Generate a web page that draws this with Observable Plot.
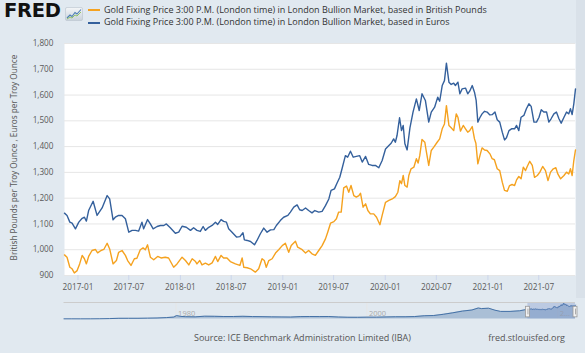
<!DOCTYPE html>
<html>
<head>
<meta charset="utf-8">
<script src="https://cdn.jsdelivr.net/npm/d3@7"></script>
<script src="https://cdn.jsdelivr.net/npm/@observablehq/plot@0.6"></script>
<style>
  html, body { margin: 0; padding: 0; background: #e1e9f0; }
  #wrap { position: relative; width: 585px; height: 353px; background: #e1e9f0; overflow: hidden; font-family: "Open Sans", sans-serif; }
  .abs { position: absolute; }
  #logo { left: 4px; top: 0px; font-family: "DejaVu Sans", sans-serif; font-weight: bold; font-size: 19.5px; color: #111; letter-spacing: -0.3px; line-height: 22px; }
  #icon { left: 65px; top: 4px; }
  #legend { left: 88px; top: 4px; font-size: 9px; color: #333; line-height: 12.4px; }
  .row { display: flex; align-items: center; white-space: nowrap; }
  .sw { width: 12px; height: 2px; margin-right: 4px; }
  #strip { left: 576px; top: 0px; width: 9px; height: 298px; background: #d9e1e9; }
  #source { left: 194px; top: 331px; font-size: 9px; color: #555; white-space: nowrap; }
  #fred { right: 20px; top: 331px; font-size: 9px; color: #555; white-space: nowrap; }
</style>
</head>
<body>
<div id="wrap">
  <div id="strip" class="abs"></div>
  <div id="chart" class="abs" style="left:0;top:0"></div>
  <div id="nav" class="abs" style="left:0;top:298px"></div>
  <div id="logo" class="abs">FRED</div>
  <div id="icon" class="abs">
    <svg width="18" height="14" viewBox="0 0 18 14">
      <defs><linearGradient id="g" x1="0" y1="0" x2="0" y2="1"><stop offset="0" stop-color="#f4f6f8"/><stop offset="1" stop-color="#c9d2db"/></linearGradient></defs>
      <rect x="0.5" y="0.5" width="17" height="13" rx="1.5" fill="url(#g)" stroke="#b8c2cc" stroke-width="0.6"/>
      <polyline points="2,11 5,8 7,9.5 10,5.5 12,7 16,2.5" fill="none" stroke="#4e7fb5" stroke-width="1.1"/>
      <polyline points="2,12 5,10 7,11 10,8 12,9 16,5" fill="none" stroke="#8bbf5a" stroke-width="0.9"/>
    </svg>
  </div>
  <div id="legend" class="abs"></div>
  <div id="source" class="abs">Source: ICE Benchmark Administration Limited (IBA)</div>
  <div id="fred" class="abs">fred.stlouisfed.org</div>
</div>
<script>
// ---------- Series names / titles ----------
const gbpName = "Gold Fixing Price 3:00 P.M. (London time) in London Bullion Market, based in British Pounds";
const eurName = "Gold Fixing Price 3:00 P.M. (London time) in London Bullion Market, based in Euros";
const yTitle = "British Pounds per Troy Ounce , Euros per Troy Ounce";
const gbpColor = "#f5a21f";
const eurColor = "#34609c";

// ---------- Euro series ----------
const eurDates = ["2016-11-14","2016-11-23","2016-12-03","2016-12-11","2016-12-23","2017-01-04","2017-01-16","2017-01-24","2017-01-31","2017-02-08","2017-02-24","2017-03-10","2017-03-28","2017-04-15","2017-04-24","2017-05-06","2017-05-14","2017-05-26","2017-06-07","2017-06-19","2017-07-01","2017-07-13","2017-07-25","2017-08-05","2017-08-17","2017-08-23","2017-09-06","2017-09-16","2017-09-26","2017-10-10","2017-10-22","2017-11-03","2017-11-12","2017-11-26","2017-12-14","2017-12-26","2018-01-07","2018-01-22","2018-02-06","2018-02-17","2018-03-01","2018-03-13","2018-03-23","2018-03-31","2018-04-12","2018-04-24","2018-05-06","2018-05-14","2018-05-26","2018-06-04","2018-06-14","2018-06-22","2018-07-04","2018-07-20","2018-08-01","2018-08-12","2018-08-17","2018-08-27","2018-09-08","2018-09-22","2018-10-01","2018-10-13","2018-10-25","2018-11-06","2018-11-18","2018-11-30","2018-12-09","2018-12-23","2019-01-04","2019-01-19","2019-01-28","2019-02-09","2019-02-21","2019-03-02","2019-03-11","2019-03-23","2019-04-03","2019-04-15","2019-04-25","2019-05-09","2019-05-21","2019-06-02","2019-06-14","2019-06-22","2019-07-04","2019-07-13","2019-07-23","2019-07-31","2019-08-12","2019-08-20","2019-08-30","2019-09-09","2019-09-20","2019-10-02","2019-10-11","2019-10-23","2019-11-03","2019-11-15","2019-11-27","2019-12-09","2019-12-21","2020-01-02","2020-01-14","2020-01-22","2020-01-31","2020-02-06","2020-02-12","2020-02-21","2020-02-28","2020-03-05","2020-03-11","2020-03-19","2020-03-29","2020-04-09","2020-04-21","2020-05-01","2020-05-11","2020-05-23","2020-06-04","2020-06-13","2020-06-25","2020-07-06","2020-07-13","2020-07-22","2020-07-30","2020-08-06","2020-08-15","2020-08-23","2020-09-01","2020-09-07","2020-09-16","2020-09-23","2020-10-01","2020-10-13","2020-10-21","2020-10-28","2020-11-06","2020-11-14","2020-11-20","2020-11-26","2020-12-03","2020-12-11","2020-12-20","2020-12-29","2021-01-08","2021-01-16","2021-01-26","2021-02-03","2021-02-12","2021-02-21","2021-03-01","2021-03-08","2021-03-17","2021-03-26","2021-04-06","2021-04-13","2021-04-21","2021-04-29","2021-05-09","2021-05-18","2021-05-27","2021-06-04","2021-06-14","2021-06-23","2021-07-02","2021-07-10","2021-07-19","2021-07-29","2021-08-06","2021-08-14","2021-08-24","2021-09-02","2021-09-11","2021-09-19","2021-09-29","2021-10-08","2021-10-16","2021-10-22","2021-10-28","2021-11-03","2021-11-09"];
const eurValues = [1142,1133,1107,1103,1081,1107,1122,1126,1111,1152,1188,1133,1162,1210,1197,1116,1126,1133,1133,1120,1068,1075,1075,1072,1107,1081,1117,1100,1081,1090,1094,1094,1100,1085,1064,1068,1091,1087,1075,1085,1075,1071,1090,1075,1087,1094,1107,1098,1117,1110,1107,1081,1068,1049,1051,1066,1038,1036,1032,1019,1036,1062,1084,1068,1077,1078,1094,1113,1126,1133,1146,1165,1174,1155,1152,1162,1152,1143,1152,1146,1149,1171,1197,1230,1236,1258,1281,1314,1365,1359,1382,1359,1362,1365,1340,1362,1331,1327,1327,1318,1346,1391,1404,1413,1430,1417,1443,1512,1462,1482,1411,1387,1473,1534,1585,1540,1605,1579,1495,1534,1553,1592,1576,1637,1656,1724,1650,1641,1646,1637,1650,1605,1624,1627,1605,1615,1637,1611,1579,1495,1512,1527,1537,1534,1523,1524,1534,1504,1495,1456,1426,1434,1462,1469,1469,1482,1462,1514,1521,1547,1566,1556,1495,1495,1514,1543,1534,1534,1495,1508,1527,1534,1508,1491,1514,1534,1527,1547,1524,1566,1624];

// ---------- British pound series ----------
const gbpDates = ["2016-11-14","2016-11-23","2016-12-03","2016-12-11","2016-12-19","2016-12-29","2017-01-07","2017-01-16","2017-01-24","2017-01-31","2017-02-08","2017-02-20","2017-03-04","2017-03-12","2017-03-24","2017-04-03","2017-04-15","2017-04-24","2017-05-06","2017-05-18","2017-05-26","2017-06-07","2017-06-19","2017-06-27","2017-07-09","2017-07-21","2017-07-30","2017-08-11","2017-08-21","2017-08-29","2017-09-06","2017-09-16","2017-09-28","2017-10-12","2017-10-24","2017-11-08","2017-11-20","2017-12-08","2017-12-20","2018-01-07","2018-01-19","2018-01-31","2018-02-12","2018-02-24","2018-03-01","2018-03-11","2018-03-19","2018-03-31","2018-04-12","2018-04-24","2018-05-06","2018-05-14","2018-05-26","2018-06-04","2018-06-16","2018-06-28","2018-07-16","2018-08-01","2018-08-09","2018-08-15","2018-08-27","2018-09-08","2018-09-25","2018-10-07","2018-10-19","2018-10-27","2018-11-03","2018-11-12","2018-11-24","2018-12-06","2018-12-18","2018-12-30","2019-01-10","2019-01-22","2019-01-31","2019-02-15","2019-02-23","2019-03-11","2019-03-23","2019-04-03","2019-04-15","2019-04-27","2019-05-09","2019-05-21","2019-06-02","2019-06-10","2019-06-20","2019-07-02","2019-07-11","2019-07-19","2019-07-28","2019-08-06","2019-08-16","2019-08-24","2019-09-01","2019-09-11","2019-09-20","2019-09-29","2019-10-05","2019-10-14","2019-10-23","2019-10-31","2019-11-09","2019-11-21","2019-12-01","2019-12-13","2019-12-21","2020-01-02","2020-01-14","2020-01-26","2020-02-06","2020-02-15","2020-02-22","2020-02-28","2020-03-05","2020-03-11","2020-03-19","2020-03-25","2020-04-02","2020-04-12","2020-04-21","2020-04-27","2020-05-03","2020-05-11","2020-05-21","2020-05-27","2020-06-04","2020-06-13","2020-06-22","2020-07-04","2020-07-13","2020-07-22","2020-07-30","2020-08-06","2020-08-15","2020-08-23","2020-09-01","2020-09-10","2020-09-16","2020-09-25","2020-10-05","2020-10-13","2020-10-21","2020-10-28","2020-11-06","2020-11-14","2020-11-19","2020-11-26","2020-12-05","2020-12-11","2020-12-20","2020-12-29","2021-01-08","2021-01-16","2021-01-24","2021-02-03","2021-02-12","2021-02-21","2021-03-01","2021-03-11","2021-03-19","2021-03-28","2021-04-06","2021-04-13","2021-04-21","2021-04-29","2021-05-07","2021-05-15","2021-05-21","2021-05-30","2021-06-08","2021-06-16","2021-06-26","2021-07-05","2021-07-15","2021-07-25","2021-08-03","2021-08-12","2021-08-22","2021-08-31","2021-09-07","2021-09-17","2021-09-29","2021-10-08","2021-10-16","2021-10-22","2021-10-28","2021-11-03","2021-11-09"];
const gbpValues = [980,971,932,926,910,919,945,978,965,945,974,997,1001,988,997,1001,1025,1003,945,958,990,997,978,958,939,965,967,1000,1007,1000,1019,971,961,974,968,971,968,932,945,971,958,941,965,954,945,958,941,948,941,949,974,954,978,968,968,954,945,939,968,932,930,926,913,926,965,958,932,958,965,987,1001,1016,1025,990,1016,1033,1010,1000,987,997,984,978,997,1016,1042,1068,1103,1109,1120,1146,1146,1240,1247,1223,1249,1210,1204,1210,1219,1165,1178,1152,1139,1139,1126,1097,1133,1184,1191,1197,1206,1223,1268,1256,1288,1249,1243,1288,1314,1320,1353,1336,1365,1428,1417,1378,1327,1385,1398,1417,1430,1469,1488,1559,1482,1473,1462,1527,1514,1460,1482,1469,1456,1462,1478,1430,1413,1333,1372,1395,1387,1385,1372,1353,1349,1314,1307,1262,1230,1227,1249,1253,1249,1271,1284,1275,1320,1307,1323,1343,1327,1281,1288,1301,1323,1307,1268,1301,1314,1318,1294,1275,1288,1301,1294,1314,1288,1346,1387];

// ---------- Axis ticks ----------
const yTicks = [900,1000,1100,1200,1300,1400,1500,1600,1700,1800];
const xTickLabels = ["2017-01","2017-07","2018-01","2018-07","2019-01","2019-07","2020-01","2020-07","2021-01","2021-07"];

// ---------- Navigator (long history, British pounds, approximate) ----------
const navDates = ["1968-04-01","1969-01-01","1970-01-01","1971-01-01","1972-01-01","1973-01-01","1974-01-01","1975-01-01","1976-01-01","1977-01-01","1978-01-01","1979-01-01","1979-10-01","1980-01-21","1980-07-01","1981-01-01","1982-01-01","1983-01-01","1984-01-01","1985-01-01","1986-01-01","1987-01-01","1988-01-01","1989-01-01","1990-01-01","1991-01-01","1992-01-01","1993-01-01","1994-01-01","1995-01-01","1996-01-01","1997-01-01","1998-01-01","1999-01-01","2000-01-01","2001-01-01","2002-01-01","2003-01-01","2004-01-01","2005-01-01","2006-01-01","2007-01-01","2008-01-01","2009-01-01","2010-01-01","2011-01-01","2011-09-01","2012-01-01","2012-10-01","2013-06-01","2014-01-01","2015-01-01","2016-01-01"];
const navValues = [16,17,15,16,24,40,68,70,70,85,100,140,190,340,260,230,215,280,270,250,250,270,245,235,215,205,195,240,250,245,250,200,175,170,185,185,205,225,225,245,325,350,470,620,790,900,1100,1040,1080,880,760,760,820];
const navMaxY = 1650;
const navGridYears = ["1980-01-01","2000-01-01","2020-01-01"];
const navGridLabels = ["1980","2000","2..."];

// ---------- Build tables ----------
const parse = d3.utcParse("%Y-%m-%d");
const eur = eurDates.map((d, i) => ({date: parse(d), value: eurValues[i]}));
const gbp = gbpDates.map((d, i) => ({date: parse(d), value: gbpValues[i]}));
const xTicks = xTickLabels.map(s => parse(s + "-01"));
const xDomain = [gbp[0].date, gbp[gbp.length - 1].date];

// ---------- Legend ----------
const legend = document.getElementById("legend");
[[gbpName, gbpColor], [eurName, eurColor]].forEach(([name, color]) => {
  const row = document.createElement("div");
  row.className = "row";
  row.innerHTML = `<span class="sw" style="background:${color}"></span><span>${name}</span>`;
  legend.appendChild(row);
});

// ---------- Main chart ----------
const chart = Plot.plot({
  width: 585,
  height: 300,
  marginTop: 43,
  marginBottom: 25,
  marginLeft: 64,
  marginRight: 10,
  style: {background: "transparent", fontFamily: "Open Sans, sans-serif", overflow: "visible"},
  x: {type: "utc", domain: xDomain},
  y: {domain: [900, 1800]},
  marks: [
    Plot.frame({fill: "white", stroke: null}),
    Plot.ruleY(yTicks, {stroke: "#e6e6e6", strokeWidth: 1}),
    Plot.axisY({ticks: yTicks, tickFormat: d3.format(","), tickSize: 0, tickPadding: 11, fontSize: 8.2, color: "#595959", label: null}),
    Plot.axisX({ticks: xTicks, tickFormat: d3.utcFormat("%Y-%m"), tickSize: 5, tickPadding: 4, fontSize: 8.2, stroke: "#ccd6eb", fill: "#595959", label: null}),
    Plot.text([yTitle], {frameAnchor: "left", dx: -50, dy: -2, rotate: -90, textAnchor: "middle", lineAnchor: "middle", fontSize: 8.2, fontFamily: "Noto Sans, Open Sans, sans-serif", fill: "#595959"}),
    Plot.line(gbp, {x: "date", y: "value", stroke: gbpColor, strokeWidth: 1.4, curve: "linear"}),
    Plot.line(eur, {x: "date", y: "value", stroke: eurColor, strokeWidth: 1.4, curve: "linear"})
  ]
});
document.getElementById("chart").appendChild(chart);

// ---------- Navigator ----------
const nav = navDates.map((d, i) => ({date: parse(d), value: navValues[i]})).concat(gbp);
const navDomain = [nav[0].date, gbp[gbp.length - 1].date];
const gridDates = navGridYears.map(parse);
const navigator = Plot.plot({
  width: 585,
  height: 25,
  marginTop: 4,
  marginBottom: 4.5,
  marginLeft: 63.5,
  marginRight: 10,
  style: {background: "transparent", fontFamily: "Open Sans, sans-serif", overflow: "visible"},
  x: {type: "utc", domain: navDomain, axis: null},
  y: {domain: [0, navMaxY], axis: null},
  marks: [
    Plot.ruleX(gridDates, {stroke: "#e6e6e6"}),
    Plot.areaY(nav, {x: "date", y: "value", fill: "#4572a7", fillOpacity: 0.35}),
    Plot.lineY(nav, {x: "date", y: "value", stroke: "#4572a7", strokeWidth: 1}),
    Plot.text(gridDates.map((d, i) => ({date: d, label: navGridLabels[i]})), {x: "date", y: navMaxY * 0.32, text: "label", dx: 2, textAnchor: "start", fontSize: 7.5, fill: "#aaaaaa"}),
    Plot.rect([{x1: xDomain[0], x2: xDomain[1]}], {x1: "x1", x2: "x2", y1: 0, y2: navMaxY, fill: "rgb(102,133,194)", fillOpacity: 0.3}),
    Plot.ruleY([navMaxY], {stroke: "#cccccc"}),
    Plot.rect(xDomain.map(d => ({d})), {x1: "d", x2: "d", y1: navMaxY * 0.1, y2: navMaxY * 0.74, insetLeft: -2, insetRight: -2, fill: "#f2f2f2", stroke: "#999999", strokeWidth: 0.8}),
    Plot.ruleX(xDomain, {y1: navMaxY * 0.25, y2: navMaxY * 0.6, stroke: "#999999", strokeWidth: 0.8})
  ]
});
document.getElementById("nav").appendChild(navigator);
</script>
</body>
</html>
